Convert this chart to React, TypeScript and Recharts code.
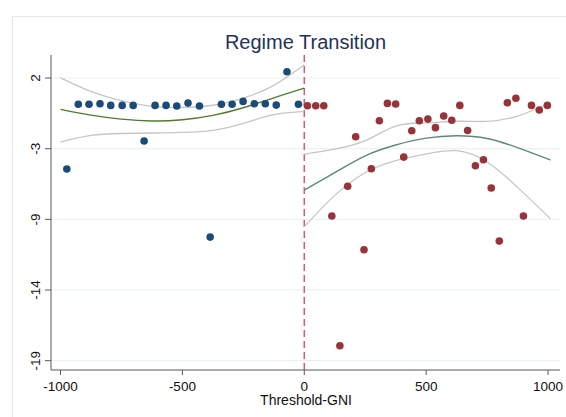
import {
  CartesianGrid,
  ComposedChart,
  Line,
  ReferenceLine,
  Scatter,
  XAxis,
  YAxis,
} from "recharts";

// points left of the threshold
const blueX = [-974, -927, -883, -838, -794, -747, -702, -657, -612, -567, -523, -477, -430, -386, -340, -296, -251, -205, -160, -115, -71, -24];
const blueY = [-4.82, 0.03, 0.03, 0.07, -0.05, -0.05, -0.05, -2.72, -0.05, -0.05, -0.1, 0.12, -0.1, -9.93, 0.03, 0.03, 0.25, 0.07, 0.07, -0.03, 2.47, 0.03];

// points right of the threshold
const redX = [13, 47, 80, 113, 146, 178, 211, 245, 275, 308, 341, 375, 408, 441, 472, 507, 538, 572, 605, 638, 670, 702, 735, 767, 800, 833, 868, 899, 932, 964, 997];
const redY = [-0.08, -0.08, -0.08, -8.35, -18.08, -6.12, -2.4, -10.88, -4.8, -1.2, 0.1, 0.05, -3.93, -1.95, -1.2, -1.08, -1.72, -0.85, -1.17, -0.05, -1.93, -4.58, -4.13, -6.25, -10.23, 0.15, 0.48, -8.35, -0.05, -0.4, -0.05];

// fitted curve + CI
const leftX = [-1000, -875, -750, -625, -500, -375, -250, -125, 0];
const leftFit = [-0.35, -0.78, -1.08, -1.22, -1.13, -0.8, -0.23, 0.52, 1.25];
const leftUpper = [2.02, 1.0, 0.3, -0.13, -0.21, -0.04, 0.5, 1.45, 3.0];
const leftLower = [-2.8, -2.3, -2.16, -2.12, -2.08, -1.92, -1.4, -0.75, -0.5];

const rightX = [0, 125, 250, 375, 500, 625, 750, 875, 1010];
const rightFit = [-6.4, -5.1, -3.83, -3.02, -2.51, -2.33, -2.53, -3.22, -4.15];
const rightUpper = [-3.7, -3.33, -2.7, -1.6, -1.36, -1.24, -1.25, -0.85, 0.15];
const rightLower = [-9.15, -6.8, -5.1, -4.2, -3.69, -3.45, -4.3, -6.2, -8.55];

const xTicks = [-1000, -500, 0, 500, 1000];
const yTicks = [2, -3.3, -8.6, -13.9, -19.2];

const zip = (xs: number[], ys: number[]) => xs.map((x, i) => ({ x, y: ys[i] }));

const font = "'Liberation Sans', Arial, sans-serif";

const Dot = (color: string) => (p: any) => (
  <circle cx={p.cx} cy={p.cy} r={3.8} fill={color} />
);

export default function App() {
  return (
    <div
      style={{
        position: "absolute",
        left: 0,
        top: 0,
        width: 566,
        height: 417,
        overflow: "hidden",
        background: "#fff",
        fontFamily: font,
      }}
    >
      <div
        style={{
          position: "absolute",
          left: 12,
          top: 16,
          width: 700,
          height: 500,
          border: "1px solid #e1ebec",
        }}
      />
      <div
        style={{
          position: "absolute",
          left: 155.5,
          top: 31,
          width: 300,
          textAlign: "center",
          fontSize: 20,
          color: "#23325a",
        }}
      >
        Regime Transition
      </div>
      <div
        style={{
          position: "absolute",
          left: 206,
          top: 393,
          width: 200,
          textAlign: "center",
          fontSize: 14,
          lineHeight: "14px",
          color: "#111",
        }}
      >
        Threshold-GNI
      </div>
      <div style={{ position: "absolute", left: 0, top: 0 }}>
        <ComposedChart
          width={566}
          height={417}
          margin={{ top: 55, right: 6, bottom: 17, left: 21 }}
        >
          <CartesianGrid
            horizontal
            vertical={false}
            stroke="#e6eff0"
            horizontalValues={yTicks}
          />
          <XAxis
            type="number"
            dataKey="x"
            domain={[-1039, 1049]}
            ticks={xTicks}
            allowDataOverflow
            height={30}
            tickSize={5}
            axisLine={{ stroke: "#595959" }}
            tickLine={{ stroke: "#595959" }}
            tick={(p: any) => (
              <text
                x={p.x}
                y={390.5}
                textAnchor="middle"
                fontSize={13.5}
                fontFamily={font}
                fill="#111"
              >
                {p.payload.value}
              </text>
            )}
          />
          <YAxis
            type="number"
            dataKey="y"
            domain={[-19.9, 3.73]}
            ticks={yTicks}
            allowDataOverflow
            width={30}
            tickSize={6}
            axisLine={{ stroke: "#595959" }}
            tickLine={{ stroke: "#595959" }}
            tick={(p: any) => (
              <text
                x={40}
                y={p.y}
                transform={`rotate(-90, 40, ${p.y})`}
                textAnchor="middle"
                fontSize={13.5}
                fontFamily={font}
                fill="#111"
              >
                {Math.round(p.payload.value)}
              </text>
            )}
          />
          <ReferenceLine
            x={0}
            stroke="#dc5680"
            strokeWidth={1.5}
            strokeDasharray="7 4"
          />
          <Line data={zip(leftX, leftUpper)} dataKey="y" type="natural" stroke="#c6c6c6" strokeWidth={1.3} dot={false} isAnimationActive={false} />
          <Line data={zip(leftX, leftLower)} dataKey="y" type="natural" stroke="#c6c6c6" strokeWidth={1.3} dot={false} isAnimationActive={false} />
          <Line data={zip(leftX, leftFit)} dataKey="y" type="natural" stroke="#4f7d2a" strokeWidth={1.4} dot={false} isAnimationActive={false} />
          <Line data={zip(rightX, rightUpper)} dataKey="y" type="natural" stroke="#c6c6c6" strokeWidth={1.3} dot={false} isAnimationActive={false} />
          <Line data={zip(rightX, rightLower)} dataKey="y" type="natural" stroke="#c6c6c6" strokeWidth={1.3} dot={false} isAnimationActive={false} />
          <Line data={zip(rightX, rightFit)} dataKey="y" type="natural" stroke="#5b8a78" strokeWidth={1.4} dot={false} isAnimationActive={false} />
          <Scatter data={zip(blueX, blueY)} shape={Dot("#1b4b78")} isAnimationActive={false} />
          <Scatter data={zip(redX, redY)} shape={Dot("#973339")} isAnimationActive={false} />
        </ComposedChart>
      </div>
    </div>
  );
}
